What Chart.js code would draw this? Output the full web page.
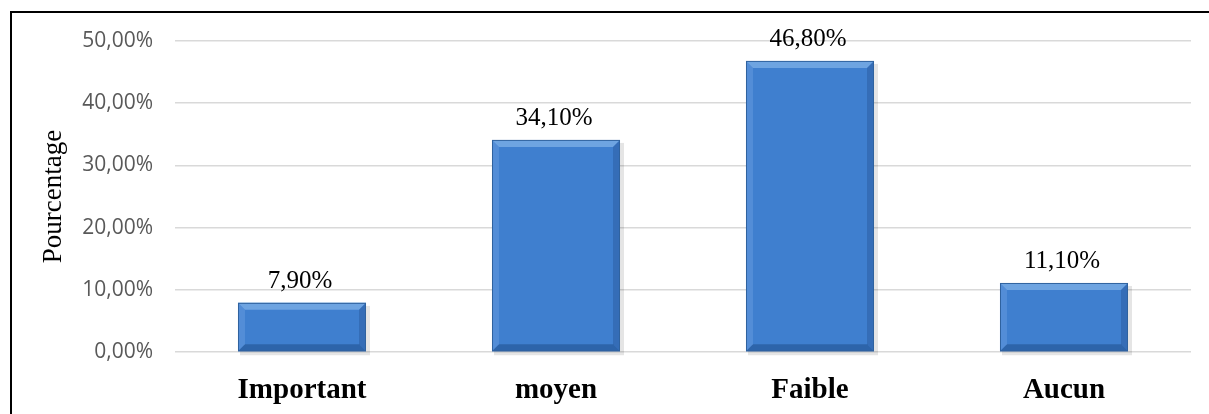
<!DOCTYPE html>
<html>
<head>
<meta charset="utf-8">
<script src="https://cdn.jsdelivr.net/npm/chart.js@4"></script>
<style>
  html, body { margin: 0; padding: 0; background: #fff; }
  #wrap { position: relative; width: 1209px; height: 414px; }
  #frame { position: absolute; left: 10px; top: 11px; right: -5px; bottom: -5px;
           border-left: 2px solid #000; border-top: 2px solid #000; pointer-events: none; }
</style>
</head>
<body>
<div id="wrap">
  <canvas id="niveauChart" width="1209" height="414"></canvas>
  <div id="frame"></div>
</div>
<script>
// donnees
const categories = ["Important", "moyen", "Faible", "Aucun"];
const pourcentages = [7.9, 34.1, 46.8, 11.1];
const yTicks = [0, 10, 20, 30, 40, 50];

const fmt = (v) => v.toFixed(2).replace(".", ",") + "%";

// degrade horizontal sur chaque barre
function barFill(ctx) {
    const el = ctx.element;
    const c = ctx.chart.ctx;
    if (!el || el.width === undefined || isNaN(el.x)) return "#3f7fcf";
    const l = el.x - el.width / 2, r = el.x + el.width / 2;
    const g = c.createLinearGradient(l, 0, r, 0);
    g.addColorStop(0, "#3f7bc8");
    g.addColorStop(0.5, "#4787d4");
    g.addColorStop(1, "#3a72bc");
    return g;
}

// petit effet biseau + ombre, a partir des elements de barre
const bevelPlugin = {
    id: "bevel",
    beforeDatasetsDraw(chart) {
        const c = chart.ctx;
        chart.getDatasetMeta(0).data.forEach((bar) => {
            const l = bar.x - bar.width / 2, r = bar.x + bar.width / 2;
            c.save();
            c.fillStyle = "rgba(0,0,0,0.10)";
            c.fillRect(l + 2, bar.y + 3, r - l + 2, bar.base - bar.y + 1);
            c.restore();
        });
    },
    afterDatasetsDraw(chart) {
        const c = chart.ctx;
        const b = 7;
        chart.getDatasetMeta(0).data.forEach((bar) => {
            const l = bar.x - bar.width / 2, r = bar.x + bar.width / 2;
            const t = bar.y, bt = bar.base;
            c.save();
            // top
            c.fillStyle = "rgba(150,195,240,0.55)";
            c.beginPath(); c.moveTo(l, t); c.lineTo(r, t); c.lineTo(r - b, t + b); c.lineTo(l + b, t + b); c.fill();
            // left
            c.fillStyle = "rgba(120,170,230,0.35)";
            c.beginPath(); c.moveTo(l, t); c.lineTo(l + b, t + b); c.lineTo(l + b, bt - b); c.lineTo(l, bt); c.fill();
            // right
            c.fillStyle = "rgba(30,70,130,0.30)";
            c.beginPath(); c.moveTo(r, t); c.lineTo(r - b, t + b); c.lineTo(r - b, bt - b); c.lineTo(r, bt); c.fill();
            // bottom
            c.fillStyle = "rgba(20,60,115,0.40)";
            c.beginPath(); c.moveTo(l, bt); c.lineTo(l + b, bt - b); c.lineTo(r - b, bt - b); c.lineTo(r, bt); c.fill();
            c.strokeStyle = "#30629f";
            c.lineWidth = 1;
            c.strokeRect(l + 0.5, t + 0.5, r - l - 1, bt - t - 1);
            c.restore();
        });
    }
};

// etiquettes au-dessus des barres
const labelPlugin = {
    id: "valeurs",
    afterDatasetsDraw(chart) {
        const c = chart.ctx;
        c.save();
        c.font = "25px 'Liberation Serif'";
        c.fillStyle = "#000";
        c.textAlign = "center";
        c.textBaseline = "alphabetic";
        chart.getDatasetMeta(0).data.forEach((bar, i) => {
            c.fillText(fmt(pourcentages[i]), bar.x - 2, bar.y - 15);
        });
        c.restore();
    }
};

new Chart(document.getElementById("niveauChart"), {
    type: "bar",
    data: {
        labels: categories,
        datasets: [{
            label: "Pourcentage",
            data: pourcentages,
            backgroundColor: barFill,
            borderWidth: 0,
            categoryPercentage: 1,
            barPercentage: 0.504
        }]
    },
    options: {
        responsive: false,
        animation: false,
        layout: { padding: { top: 41, right: 18, left: 0, bottom: 0 } },
        plugins: { legend: { display: false }, tooltip: { enabled: false } },
        scales: {
            x: {
                grid: { display: false, drawTicks: false },
                border: { display: false },
                ticks: {
                    padding: 21,
                    color: "#000",
                    font: { family: "'Liberation Serif'", size: 29, weight: "bold" }
                },
                afterFit: (s) => { s.height = 62; }
            },
            y: {
                min: 0,
                max: 50,
                afterBuildTicks: (s) => { s.ticks = yTicks.map((v) => ({ value: v })); },
                grid: { color: "#d9d9d9", lineWidth: 1.5, drawTicks: false },
                border: { display: false },
                ticks: {
                    padding: 22,
                    color: "#595959",
                    font: { family: "'Open Sans'", size: 21 },
                    callback: (v) => fmt(v)
                },
                title: {
                    display: true,
                    text: "Pourcentage",
                    color: "#000",
                    font: { family: "'Liberation Serif'", size: 27 },
                    padding: { top: 38, bottom: 0 }
                },
                afterFit: (s) => { s.width = 175; }
            }
        }
    },
    plugins: [bevelPlugin, labelPlugin]
});
</script>
</body>
</html>
